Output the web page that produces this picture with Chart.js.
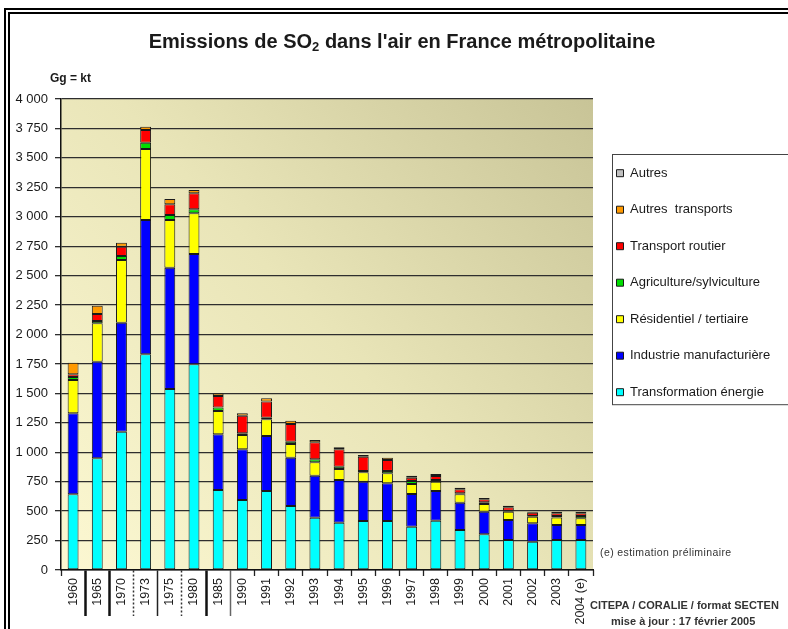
<!DOCTYPE html>
<html><head><meta charset="utf-8">
<script src="https://cdn.jsdelivr.net/npm/chart.js@4.4.0/dist/chart.umd.min.js"></script>
<style>
html,body{margin:0;padding:0;background:#fff;}
#wrap{position:relative;width:788px;height:629px;overflow:hidden;font-family:"Liberation Sans",Arial,sans-serif;background:#fff;}
canvas{position:absolute;left:0;top:0;}
.frame{position:absolute;left:4px;top:8px;width:900px;height:800px;border-left:6px double #000;border-top:6px double #000;pointer-events:none;}
.t{position:absolute;white-space:nowrap;color:#1a1a1a;}
</style></head><body>
<div id="wrap">
<canvas id="c" width="788" height="629"></canvas>
<div class="frame"></div>
<div class="t" style="left:0;width:804px;top:30px;text-align:center;font-weight:bold;font-size:20px;">Emissions de SO<sub style="font-size:13px;vertical-align:-3px">2</sub> dans l'air en France métropolitaine</div>
<div class="t" style="left:50px;top:71px;font-weight:bold;font-size:12px;">Gg = kt</div>
<div class="t" style="left:600px;top:546px;font-size:10.5px;letter-spacing:0.4px;color:#333;">(e) estimation préliminaire</div>
<div class="t" style="left:590px;top:599px;font-weight:bold;font-size:11px;color:#333;">CITEPA / CORALIE / format SECTEN</div>
<div class="t" style="left:611px;top:615px;font-weight:bold;font-size:11px;color:#333;">mise à jour : 17 février 2005</div>
</div>
<script>
const years = ['1960','1965','1970','1973','1975','1980','1985','1990','1991','1992','1993','1994','1995','1996','1997','1998','1999','2000','2001','2002','2003','2004 (e)'];
const transformationEnergie = [643, 949, 1175, 1832, 1537, 1747, 679, 594, 671, 544, 444, 402, 416, 416, 368, 419, 340, 303, 255, 240, 255, 255];
const industrieManufacturiere = [688, 820, 925, 1140, 1030, 937, 473, 431, 467, 410, 357, 362, 334, 320, 277, 252, 232, 192, 170, 156, 127, 127];
const residentielTertiaire = [283, 326, 533, 603, 405, 345, 198, 121, 142, 116, 114, 94, 80, 85, 86, 79, 71, 66, 70, 57, 63, 57];
const agricultureSylviculture = [26, 20, 34, 54, 43, 34, 29, 15, 14, 20, 25, 19, 11, 20, 25, 14, 8, 14, 9, 6, 14, 20];
const transportRoutier = [22, 59, 79, 108, 91, 136, 99, 149, 136, 150, 144, 148, 121, 93, 28, 34, 34, 25, 28, 28, 22, 22];
const autresTransports = [99, 71, 34, 28, 45, 28, 22, 21, 28, 28, 20, 17, 15, 20, 17, 17, 14, 11, 14, 8, 14, 14];
const autres = [0, 0, 0, 0, 0, 0, 0, 0, 0, 0, 0, 0, 0, 0, 0, 0, 0, 0, 0, 0, 0, 0];
const seriesNames = ['Transformation énergie','Industrie manufacturière','Résidentiel / tertiaire','Agriculture/sylviculture','Transport routier','Autres  transports','Autres'];
const seriesColors = ['#00ffff','#0000ff','#ffff00','#00dd00','#ff0000','#ff9900','#c0c0c0'];
const yMax = 4000, yStep = 250;

const FAM = '"Liberation Sans", Arial, sans-serif';
Chart.defaults.font.family = FAM;
Chart.defaults.color = '#1a1a1a';

const seriesData = [transformationEnergie, industrieManufacturiere, residentielTertiaire, agricultureSylviculture, transportRoutier, autresTransports, autres];

const bgPlugin = {
  id: 'plotBg',
  beforeDraw(chart) {
    const {ctx, chartArea: a} = chart;
    const g = ctx.createLinearGradient(a.right, a.top, a.left, a.bottom);
    g.addColorStop(0, '#c8c497');
    g.addColorStop(0.5, '#e9e5b8');
    g.addColorStop(1, '#fcf8d2');
    ctx.save();
    ctx.fillStyle = g;
    ctx.fillRect(a.left, a.top, a.right - a.left, a.bottom - a.top);
    ctx.restore();
  }
};
const legendBoxPlugin = {
  id: 'legendBox',
  afterDraw(chart) {
    const hb = chart.legend && chart.legend.legendHitBoxes;
    if (!hb || !hb.length) return;
    const first = hb[0], last = hb[hb.length - 1];
    const ctx = chart.ctx;
    ctx.save();
    ctx.strokeStyle = '#444';
    ctx.lineWidth = 1;
    const x = Math.round(first.left - 5) + 0.5, y = Math.round(first.top - 13) + 0.5;
    ctx.strokeRect(x, y, chart.width + 10 - x, (last.top + last.height + 6) - y);
    ctx.restore();
  }
};

const longStyle = i => {
  if (i === 1 || i === 2 || i === 6) return {c: '#111', w: 2.5, d: []};
  if (i === 4) return {c: '#222', w: 1.5, d: []};
  if (i === 3 || i === 5) return {c: '#333', w: 1.5, d: [2, 2]};
  if (i === 7) return {c: '#666', w: 1.5, d: []};
  return null;
};

new Chart(document.getElementById('c'), {
  type: 'bar',
  data: {
    labels: years,
    datasets: seriesData.map((d, k) => ({
      label: seriesNames[k],
      data: d,
      backgroundColor: seriesColors[k],
      borderColor: '#1a1a1a',
      borderWidth: 1,
      borderSkipped: false,
      barPercentage: 0.45,
      categoryPercentage: 1,
      xAxisID: 'x',
      yAxisID: 'y'
    }))
  },
  options: {
    responsive: false,
    animation: false,
    devicePixelRatio: 1,
    layout: {padding: {left: 0, top: 99, right: 12, bottom: 0}},
    plugins: {
      tooltip: {enabled: false},
      title: {display: false},
      legend: {
        position: 'right',
        fullSize: false,
        maxWidth: 183,
        reverse: true,
        align: 'start',
        title: {display: true, text: ' ', font: {size: 1}, padding: {top: 43, bottom: 0}},
        labels: {boxWidth: 7, boxHeight: 7, padding: 23.5, color: '#1a1a1a', font: {size: 13, family: FAM}}
      }
    },
    scales: {
      x: {
        type: 'category',
        stacked: true,
        offset: true,
        weight: 1,
        grid: {
          offset: true,
          drawOnChartArea: false,
          tickLength: 46,
          tickColor: ctx => { const s = longStyle(ctx.index); return s ? s.c : 'rgba(0,0,0,0)'; },
          tickWidth: ctx => { const s = longStyle(ctx.index); return s ? s.w : 1; },
          tickBorderDash: ctx => { const s = longStyle(ctx.index); return s ? s.d : []; }
        },
        border: {display: true, color: '#111', width: 1.5},
        ticks: {maxRotation: 90, minRotation: 90, padding: -38, autoSkip: false, color: '#1a1a1a', font: {size: 12.5}},
        afterFit: s => { s.height = 59; }
      },
      x2: {
        type: 'category',
        position: 'bottom',
        offset: true,
        weight: 0,
        grid: {
          offset: true,
          drawOnChartArea: false,
          tickLength: 6,
          tickColor: ctx => (ctx.index >= 1 && ctx.index <= 7) ? 'rgba(0,0,0,0)' : '#222',
          tickWidth: 1.3
        },
        border: {display: false},
        ticks: {display: false},
        afterFit: s => { s.height = 0; }
      },
      y: {
        stacked: true,
        min: 0,
        max: yMax,
        ticks: {
          stepSize: yStep,
          padding: 7,
          color: '#1a1a1a',
          font: {size: 13},
          callback: v => v >= 1000 ? Math.floor(v / 1000) + ' ' + String(v % 1000).padStart(3, '0') : String(v)
        },
        grid: {color: '#2e2e2e', lineWidth: 1.3, tickLength: 6, tickColor: '#2e2e2e'},
        border: {display: true, color: '#111', width: 1.5},
        afterFit: s => { s.width = 61; }
      }
    }
  },
  plugins: [bgPlugin, legendBoxPlugin]
});
</script>
</body></html>
